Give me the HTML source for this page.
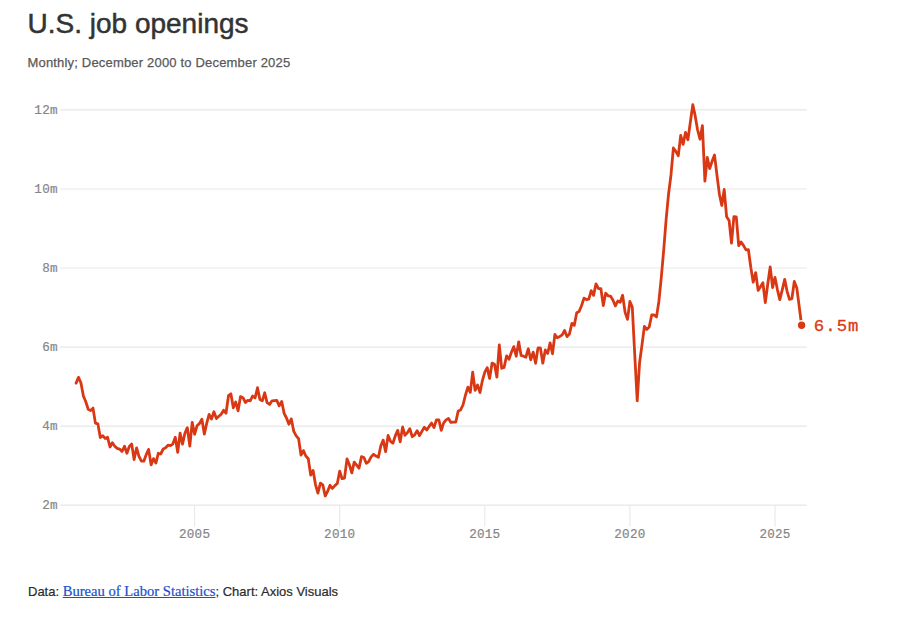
<!DOCTYPE html>
<html><head><meta charset="utf-8"><title>U.S. job openings</title>
<style>
html,body{margin:0;padding:0;background:#fff;}
body{width:907px;height:617px;position:relative;overflow:hidden;font-family:"Liberation Sans",sans-serif;}
h1{position:absolute;left:27.5px;top:8px;margin:0;font-weight:400;font-size:28px;line-height:32px;color:#333;white-space:nowrap;-webkit-text-stroke:0.5px #333;}
.sub{position:absolute;left:27.5px;top:55px;font-size:13px;line-height:16px;color:#595959;white-space:nowrap;letter-spacing:0.18px;-webkit-text-stroke:0.25px #595959;}
.foot{position:absolute;left:28px;top:583px;font-size:13px;line-height:16px;color:#2b2b2b;white-space:nowrap;-webkit-text-stroke:0.2px #2b2b2b;}
.foot a{font-family:"Liberation Serif",serif;color:#1a50c8;-webkit-text-stroke:0.2px #1a50c8;text-decoration:underline;text-decoration-thickness:1px;text-underline-offset:1px;font-size:14.6px;}
svg{position:absolute;left:0;top:0;}
.ax{font-family:"Liberation Mono",monospace;font-size:12.6px;fill:#868686;letter-spacing:0.25px;stroke:#868686;stroke-width:0.2px;}
.end{font-family:"Liberation Mono",monospace;font-size:17.3px;fill:#d93814;letter-spacing:1.1px;stroke:#d93814;stroke-width:0.3px;}
</style></head><body>
<h1>U.S. job openings</h1>
<div class="sub">Monthly; December 2000 to December 2025</div>
<svg width="907" height="617" viewBox="0 0 907 617">
<line x1="60" x2="806.8" y1="505.2" y2="505.2" stroke="#e5e7e6" stroke-width="1.2"/>
<text x="57.8" y="509.2" text-anchor="end" class="ax">2m</text>
<line x1="60" x2="806.8" y1="426.1" y2="426.1" stroke="#e5e7e6" stroke-width="1.2"/>
<text x="57.8" y="430.1" text-anchor="end" class="ax">4m</text>
<line x1="60" x2="806.8" y1="347.1" y2="347.1" stroke="#e5e7e6" stroke-width="1.2"/>
<text x="57.8" y="351.1" text-anchor="end" class="ax">6m</text>
<line x1="60" x2="806.8" y1="268.0" y2="268.0" stroke="#e5e7e6" stroke-width="1.2"/>
<text x="57.8" y="272.0" text-anchor="end" class="ax">8m</text>
<line x1="60" x2="806.8" y1="189.0" y2="189.0" stroke="#e5e7e6" stroke-width="1.2"/>
<text x="57.8" y="193.0" text-anchor="end" class="ax">10m</text>
<line x1="60" x2="806.8" y1="109.9" y2="109.9" stroke="#e5e7e6" stroke-width="1.2"/>
<text x="57.8" y="113.9" text-anchor="end" class="ax">12m</text>
<line x1="194.6" x2="194.6" y1="505" y2="526.5" stroke="#e8e8e8" stroke-width="1.1"/>
<text x="194.6" y="538" text-anchor="middle" class="ax">2005</text>
<line x1="339.7" x2="339.7" y1="505" y2="526.5" stroke="#e8e8e8" stroke-width="1.1"/>
<text x="339.7" y="538" text-anchor="middle" class="ax">2010</text>
<line x1="484.8" x2="484.8" y1="505" y2="526.5" stroke="#e8e8e8" stroke-width="1.1"/>
<text x="484.8" y="538" text-anchor="middle" class="ax">2015</text>
<line x1="629.9" x2="629.9" y1="505" y2="526.5" stroke="#e8e8e8" stroke-width="1.1"/>
<text x="629.9" y="538" text-anchor="middle" class="ax">2020</text>
<line x1="775.0" x2="775.0" y1="505" y2="526.5" stroke="#e8e8e8" stroke-width="1.1"/>
<text x="775.0" y="538" text-anchor="middle" class="ax">2025</text>
<path d="M76.1,383.1 L78.5,377.4 L80.9,382.8 L83.4,396.0 L85.8,401.8 L88.2,409.3 L90.6,410.6 L93.0,408.1 L95.4,423.1 L97.9,423.9 L100.3,437.5 L102.7,435.6 L105.1,438.4 L107.5,437.2 L110.0,447.0 L112.4,442.8 L114.8,446.2 L117.2,448.4 L119.6,449.1 L122.0,451.5 L124.5,446.3 L126.9,453.2 L129.3,446.5 L131.7,444.1 L134.1,459.5 L136.6,447.9 L139.0,456.3 L141.4,461.2 L143.8,461.2 L146.2,454.7 L148.6,449.4 L151.1,464.9 L153.5,458.6 L155.9,463.1 L158.3,453.3 L160.7,454.0 L163.2,449.0 L165.6,447.8 L168.0,445.2 L170.4,445.7 L172.8,444.1 L175.3,437.3 L177.7,452.4 L180.1,433.1 L182.5,444.2 L184.9,433.3 L187.3,427.6 L189.8,446.0 L192.2,422.4 L194.6,434.3 L197.0,425.8 L199.4,423.6 L201.9,419.2 L204.3,434.1 L206.7,423.4 L209.1,414.4 L211.5,419.1 L213.9,411.8 L216.4,418.6 L218.8,416.3 L221.2,414.2 L223.6,410.3 L226.0,413.2 L228.5,395.7 L230.9,393.8 L233.3,407.8 L235.7,402.0 L238.1,410.8 L240.5,396.6 L243.0,397.7 L245.4,402.5 L247.8,400.4 L250.2,400.9 L252.6,396.0 L255.1,397.9 L257.5,387.7 L259.9,399.5 L262.3,400.8 L264.7,392.8 L267.1,402.7 L269.6,404.4 L272.0,400.8 L274.4,400.6 L276.8,400.4 L279.2,405.9 L281.7,401.4 L284.1,413.3 L286.5,418.0 L288.9,424.2 L291.3,418.9 L293.8,431.4 L296.2,435.9 L298.6,438.7 L301.0,455.1 L303.4,450.6 L305.8,456.0 L308.3,458.7 L310.7,475.1 L313.1,470.4 L315.5,484.6 L317.9,493.1 L320.4,483.2 L322.8,484.9 L325.2,496.0 L327.6,491.4 L330.0,485.3 L332.4,488.4 L334.9,485.6 L337.3,483.5 L339.7,471.2 L342.1,478.7 L344.5,478.1 L347.0,458.9 L349.4,464.8 L351.8,472.9 L354.2,462.1 L356.6,465.1 L359.0,468.2 L361.5,456.6 L363.9,457.5 L366.3,463.3 L368.7,461.6 L371.1,456.9 L373.6,454.3 L376.0,456.1 L378.4,457.3 L380.8,445.9 L383.2,440.1 L385.6,451.7 L388.1,435.5 L390.5,441.3 L392.9,443.2 L395.3,435.9 L397.7,430.4 L400.2,441.9 L402.6,426.9 L405.0,435.3 L407.4,432.6 L409.8,428.6 L412.2,436.7 L414.7,434.8 L417.1,430.6 L419.5,435.6 L421.9,431.4 L424.3,427.2 L426.8,430.0 L429.2,426.3 L431.6,423.1 L434.0,427.6 L436.4,420.0 L438.9,420.0 L441.3,430.4 L443.7,422.9 L446.1,419.9 L448.5,418.5 L450.9,422.4 L453.4,422.1 L455.8,422.0 L458.2,411.0 L460.6,409.9 L463.0,405.0 L465.5,395.0 L467.9,387.2 L470.3,392.4 L472.7,372.1 L475.1,390.4 L477.5,385.0 L480.0,392.6 L482.4,380.6 L484.8,372.1 L487.2,367.6 L489.6,378.5 L492.1,363.1 L494.5,364.2 L496.9,377.2 L499.3,344.9 L501.7,368.3 L504.1,367.4 L506.6,355.8 L509.0,359.3 L511.4,352.3 L513.8,346.6 L516.2,356.2 L518.7,341.8 L521.1,355.5 L523.5,356.2 L525.9,357.2 L528.3,348.7 L530.7,359.8 L533.2,352.2 L535.6,363.3 L538.0,347.9 L540.4,347.9 L542.8,363.2 L545.3,350.0 L547.7,353.4 L550.1,342.8 L552.5,353.8 L554.9,334.5 L557.3,337.7 L559.8,336.4 L562.2,334.8 L564.6,330.4 L567.0,336.6 L569.4,334.1 L571.9,323.4 L574.3,325.3 L576.7,312.8 L579.1,311.5 L581.5,305.8 L584.0,298.1 L586.4,299.5 L588.8,299.1 L591.2,290.6 L593.6,295.4 L596.0,283.8 L598.5,288.6 L600.9,288.7 L603.3,305.5 L605.7,293.2 L608.1,295.8 L610.6,296.1 L613.0,300.2 L615.4,305.9 L617.8,301.0 L620.2,302.2 L622.6,295.3 L625.1,312.4 L627.5,319.4 L629.9,301.5 L632.3,307.4 L634.7,353.7 L637.2,400.8 L639.6,362.5 L642.0,344.9 L644.4,326.4 L646.8,329.4 L649.2,327.0 L651.7,315.0 L654.1,315.0 L656.5,316.9 L658.9,301.2 L661.3,277.3 L663.8,249.0 L666.2,218.6 L668.6,193.7 L671.0,174.7 L673.4,148.0 L675.8,151.4 L678.3,155.7 L680.7,135.4 L683.1,144.4 L685.5,132.4 L687.9,139.7 L690.4,121.8 L692.8,104.6 L695.2,115.9 L697.6,130.0 L700.0,139.2 L702.4,125.6 L704.9,181.1 L707.3,157.5 L709.7,168.6 L712.1,161.3 L714.5,155.0 L717.0,175.4 L719.4,194.3 L721.8,205.5 L724.2,189.4 L726.6,216.7 L729.1,220.5 L731.5,243.2 L733.9,216.7 L736.3,217.0 L738.7,245.6 L741.1,242.0 L743.6,245.6 L746.0,249.9 L748.4,249.7 L750.8,267.3 L753.2,282.2 L755.7,272.6 L758.1,290.4 L760.5,286.8 L762.9,282.8 L765.3,302.6 L767.7,284.5 L770.2,266.8 L772.6,287.5 L775.0,277.4 L777.4,289.6 L779.8,299.6 L782.3,289.6 L784.7,279.4 L787.1,291.3 L789.5,299.3 L791.9,298.6 L794.3,281.5 L796.8,287.9 L799.2,306.4 L801.6,325.3" fill="none" stroke="#fff" stroke-width="4.6" stroke-linejoin="round" stroke-linecap="round"/>
<path d="M76.1,383.1 L78.5,377.4 L80.9,382.8 L83.4,396.0 L85.8,401.8 L88.2,409.3 L90.6,410.6 L93.0,408.1 L95.4,423.1 L97.9,423.9 L100.3,437.5 L102.7,435.6 L105.1,438.4 L107.5,437.2 L110.0,447.0 L112.4,442.8 L114.8,446.2 L117.2,448.4 L119.6,449.1 L122.0,451.5 L124.5,446.3 L126.9,453.2 L129.3,446.5 L131.7,444.1 L134.1,459.5 L136.6,447.9 L139.0,456.3 L141.4,461.2 L143.8,461.2 L146.2,454.7 L148.6,449.4 L151.1,464.9 L153.5,458.6 L155.9,463.1 L158.3,453.3 L160.7,454.0 L163.2,449.0 L165.6,447.8 L168.0,445.2 L170.4,445.7 L172.8,444.1 L175.3,437.3 L177.7,452.4 L180.1,433.1 L182.5,444.2 L184.9,433.3 L187.3,427.6 L189.8,446.0 L192.2,422.4 L194.6,434.3 L197.0,425.8 L199.4,423.6 L201.9,419.2 L204.3,434.1 L206.7,423.4 L209.1,414.4 L211.5,419.1 L213.9,411.8 L216.4,418.6 L218.8,416.3 L221.2,414.2 L223.6,410.3 L226.0,413.2 L228.5,395.7 L230.9,393.8 L233.3,407.8 L235.7,402.0 L238.1,410.8 L240.5,396.6 L243.0,397.7 L245.4,402.5 L247.8,400.4 L250.2,400.9 L252.6,396.0 L255.1,397.9 L257.5,387.7 L259.9,399.5 L262.3,400.8 L264.7,392.8 L267.1,402.7 L269.6,404.4 L272.0,400.8 L274.4,400.6 L276.8,400.4 L279.2,405.9 L281.7,401.4 L284.1,413.3 L286.5,418.0 L288.9,424.2 L291.3,418.9 L293.8,431.4 L296.2,435.9 L298.6,438.7 L301.0,455.1 L303.4,450.6 L305.8,456.0 L308.3,458.7 L310.7,475.1 L313.1,470.4 L315.5,484.6 L317.9,493.1 L320.4,483.2 L322.8,484.9 L325.2,496.0 L327.6,491.4 L330.0,485.3 L332.4,488.4 L334.9,485.6 L337.3,483.5 L339.7,471.2 L342.1,478.7 L344.5,478.1 L347.0,458.9 L349.4,464.8 L351.8,472.9 L354.2,462.1 L356.6,465.1 L359.0,468.2 L361.5,456.6 L363.9,457.5 L366.3,463.3 L368.7,461.6 L371.1,456.9 L373.6,454.3 L376.0,456.1 L378.4,457.3 L380.8,445.9 L383.2,440.1 L385.6,451.7 L388.1,435.5 L390.5,441.3 L392.9,443.2 L395.3,435.9 L397.7,430.4 L400.2,441.9 L402.6,426.9 L405.0,435.3 L407.4,432.6 L409.8,428.6 L412.2,436.7 L414.7,434.8 L417.1,430.6 L419.5,435.6 L421.9,431.4 L424.3,427.2 L426.8,430.0 L429.2,426.3 L431.6,423.1 L434.0,427.6 L436.4,420.0 L438.9,420.0 L441.3,430.4 L443.7,422.9 L446.1,419.9 L448.5,418.5 L450.9,422.4 L453.4,422.1 L455.8,422.0 L458.2,411.0 L460.6,409.9 L463.0,405.0 L465.5,395.0 L467.9,387.2 L470.3,392.4 L472.7,372.1 L475.1,390.4 L477.5,385.0 L480.0,392.6 L482.4,380.6 L484.8,372.1 L487.2,367.6 L489.6,378.5 L492.1,363.1 L494.5,364.2 L496.9,377.2 L499.3,344.9 L501.7,368.3 L504.1,367.4 L506.6,355.8 L509.0,359.3 L511.4,352.3 L513.8,346.6 L516.2,356.2 L518.7,341.8 L521.1,355.5 L523.5,356.2 L525.9,357.2 L528.3,348.7 L530.7,359.8 L533.2,352.2 L535.6,363.3 L538.0,347.9 L540.4,347.9 L542.8,363.2 L545.3,350.0 L547.7,353.4 L550.1,342.8 L552.5,353.8 L554.9,334.5 L557.3,337.7 L559.8,336.4 L562.2,334.8 L564.6,330.4 L567.0,336.6 L569.4,334.1 L571.9,323.4 L574.3,325.3 L576.7,312.8 L579.1,311.5 L581.5,305.8 L584.0,298.1 L586.4,299.5 L588.8,299.1 L591.2,290.6 L593.6,295.4 L596.0,283.8 L598.5,288.6 L600.9,288.7 L603.3,305.5 L605.7,293.2 L608.1,295.8 L610.6,296.1 L613.0,300.2 L615.4,305.9 L617.8,301.0 L620.2,302.2 L622.6,295.3 L625.1,312.4 L627.5,319.4 L629.9,301.5 L632.3,307.4 L634.7,353.7 L637.2,400.8 L639.6,362.5 L642.0,344.9 L644.4,326.4 L646.8,329.4 L649.2,327.0 L651.7,315.0 L654.1,315.0 L656.5,316.9 L658.9,301.2 L661.3,277.3 L663.8,249.0 L666.2,218.6 L668.6,193.7 L671.0,174.7 L673.4,148.0 L675.8,151.4 L678.3,155.7 L680.7,135.4 L683.1,144.4 L685.5,132.4 L687.9,139.7 L690.4,121.8 L692.8,104.6 L695.2,115.9 L697.6,130.0 L700.0,139.2 L702.4,125.6 L704.9,181.1 L707.3,157.5 L709.7,168.6 L712.1,161.3 L714.5,155.0 L717.0,175.4 L719.4,194.3 L721.8,205.5 L724.2,189.4 L726.6,216.7 L729.1,220.5 L731.5,243.2 L733.9,216.7 L736.3,217.0 L738.7,245.6 L741.1,242.0 L743.6,245.6 L746.0,249.9 L748.4,249.7 L750.8,267.3 L753.2,282.2 L755.7,272.6 L758.1,290.4 L760.5,286.8 L762.9,282.8 L765.3,302.6 L767.7,284.5 L770.2,266.8 L772.6,287.5 L775.0,277.4 L777.4,289.6 L779.8,299.6 L782.3,289.6 L784.7,279.4 L787.1,291.3 L789.5,299.3 L791.9,298.6 L794.3,281.5 L796.8,287.9 L799.2,306.4 L801.6,325.3" fill="none" stroke="#d93814" stroke-width="2.8" stroke-linejoin="round" stroke-linecap="round"/>
<circle cx="801.6" cy="325.3" r="4.5" fill="#d93814" stroke="#fff" stroke-width="1.6"/>
<text x="813.7" y="331.0" class="end">6.5m</text>
</svg>
<div class="foot">Data: <a>Bureau of Labor Statistics</a>; Chart: Axios Visuals</div>
</body></html>
